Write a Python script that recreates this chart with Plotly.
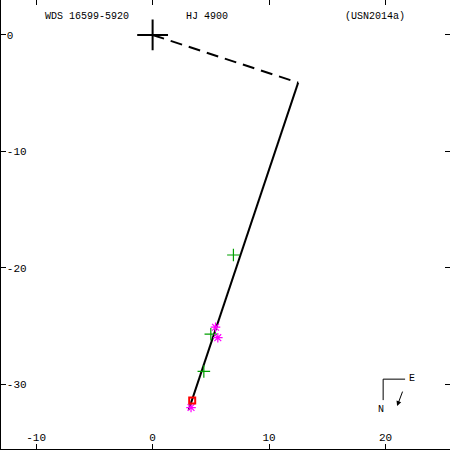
import plotly.graph_objects as go

# Data
orbit_x = [12.5, 3.1]
orbit_y = [-4.1, -32.2]
node_x = [0, 12.5]
node_y = [0, -4.1]
green_x = [6.94, 5.0, 4.4]
green_y = [-18.9, -25.7, -28.9]
magenta_x = [5.4, 5.6, 3.3]
magenta_y = [-25.1, -26.0, -32.0]
red_x = [3.4]
red_y = [-31.4]
primary_x = [0]
primary_y = [0]
x_ticks = [-10, 0, 10, 20]
y_ticks = [0, -10, -20, -30]
xr = [-13.02, 25.54]
yr = [-35.56, 3.0]

FONT = "Liberation Mono"
FS = 10

fig = go.Figure()
fig.add_trace(go.Scatter(x=node_x, y=node_y, mode="lines",
                         line=dict(color="black", width=2, dash="12px,7px")))
fig.add_trace(go.Scatter(x=orbit_x, y=orbit_y, mode="lines",
                         line=dict(color="black", width=2)))
fig.add_trace(go.Scatter(x=green_x, y=green_y, mode="markers",
                         marker=dict(symbol="cross-thin", size=9,
                                     line=dict(color="#00a000", width=1.2))))
fig.add_trace(go.Scatter(x=magenta_x, y=magenta_y, mode="markers",
                         marker=dict(symbol="asterisk", size=8,
                                     line=dict(color="#ff00ff", width=1.2))))
fig.add_trace(go.Scatter(x=red_x, y=red_y, mode="markers",
                         marker=dict(symbol="square-open", size=6,
                                     line=dict(color="red", width=2), color="red")))
fig.add_trace(go.Scatter(x=primary_x, y=primary_y, mode="markers",
                         marker=dict(symbol="cross-thin", size=22,
                                     line=dict(color="black", width=2))))

axis_common = dict(ticks="inside", ticklen=5, tickwidth=1, automargin=False,
                   tickcolor="black", showgrid=False, zeroline=False)
tickfont = dict(family=FONT, size=FS + 1, color="#000000")

fig.update_layout(
    width=450, height=450, showlegend=False,
    margin=dict(l=1, r=0, t=0, b=1, pad=0, autoexpand=False),
    plot_bgcolor="white", paper_bgcolor="white",
    font=dict(family=FONT, size=FS, color="#000000"),
    xaxis=dict(range=xr, tickvals=x_ticks, ticktext=[str(v) for v in x_ticks],
               showline=True, linecolor="black", linewidth=2,
               ticklabelposition="inside", tickfont=tickfont, **axis_common),
    yaxis=dict(range=yr, tickvals=y_ticks, ticktext=[str(v) for v in y_ticks],
               showline=True, linecolor="black", linewidth=2,
               ticklabelposition="inside", tickfont=tickfont, **axis_common),
    xaxis2=dict(range=xr, tickvals=x_ticks, overlaying="x", side="top",
                showticklabels=False, showline=False, **axis_common),
    yaxis2=dict(range=yr, tickvals=y_ticks, overlaying="y", side="right",
                showticklabels=False, showline=False, **axis_common),
)
# invisible trace to activate secondary axes
fig.add_trace(go.Scatter(x=[None], y=[None], xaxis="x2", yaxis="y2", showlegend=False))

def ptext(x, y, t):
    fig.add_annotation(x=x / 450, y=1 - y / 450, xref="paper", yref="paper",
                       text=t, showarrow=False, xanchor="center", yanchor="middle",
                       font=dict(family=FONT, size=FS, color="black"))

ptext(86, 17, "WDS 16599-5920")
ptext(206, 17, "HJ 4900")
ptext(375, 17, "(USN2014a)")
ptext(412, 379, "E")
ptext(381, 410, "N")

# N/E orientation indicator
fig.add_shape(type="line", xref="paper", yref="paper",
              x0=383 / 450, y0=1 - 380 / 450, x1=405 / 450, y1=1 - 380 / 450,
              line=dict(color="black", width=1))
fig.add_shape(type="line", xref="paper", yref="paper",
              x0=383 / 450, y0=1 - 380 / 450, x1=383 / 450, y1=1 - 401 / 450,
              line=dict(color="black", width=1))
fig.add_annotation(x=397 / 450, y=1 - 407 / 450, ax=6, ay=-16,
                   xref="paper", yref="paper", axref="pixel", ayref="pixel",
                   text="", showarrow=True, arrowhead=2, arrowsize=1, arrowwidth=1,
                   arrowcolor="black")

fig.write_html("out.html", config={"displayModeBar": False},
               post_script="document.body.style.margin='0';document.body.style.padding='0';")
